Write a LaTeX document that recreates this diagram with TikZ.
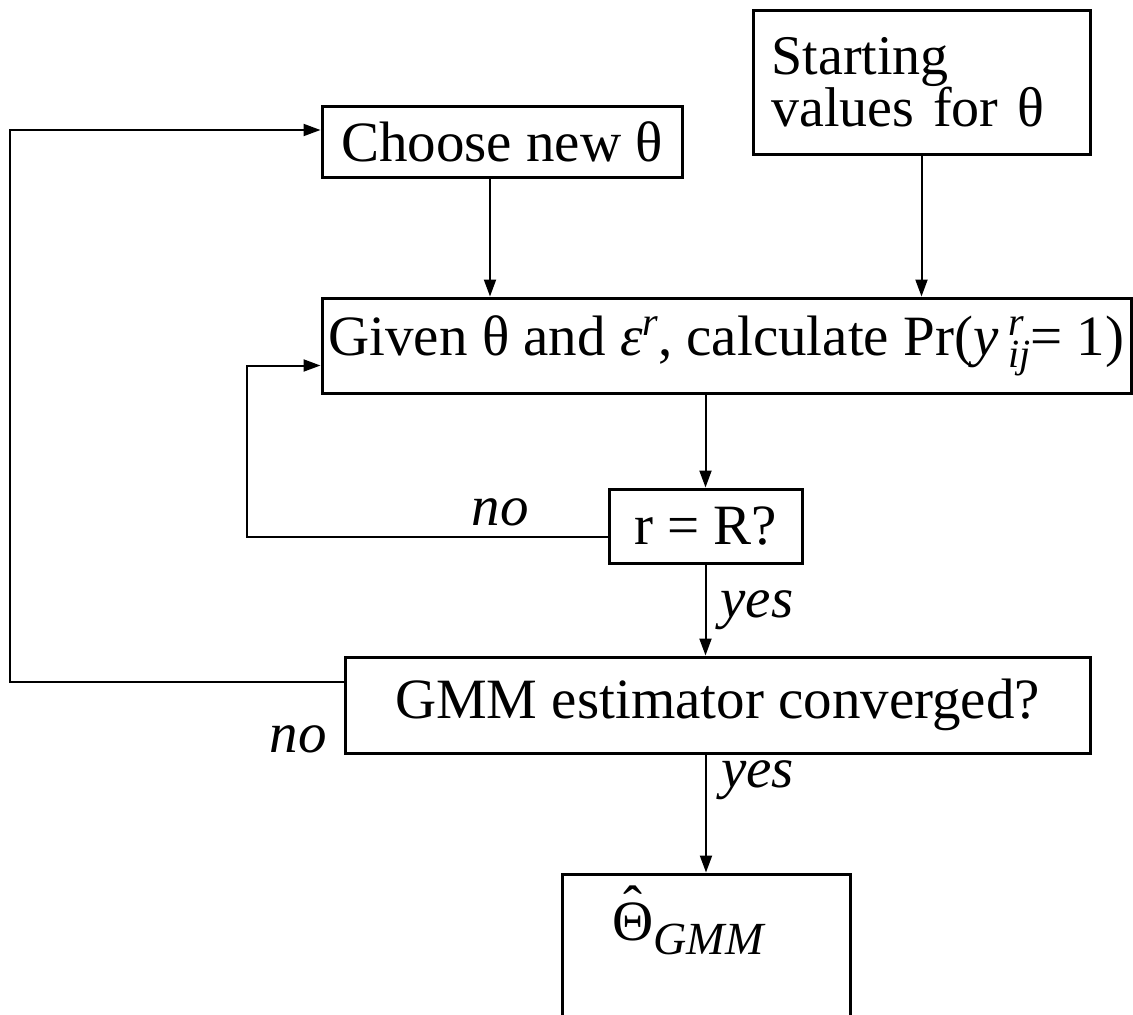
\documentclass[tikz,border=0pt]{standalone}
\usepackage{fontspec}
\setmainfont{Liberation Serif}
\usetikzlibrary{arrows.meta,positioning}

\newcommand{\bigtext}{\fontsize{57}{60}\selectfont}
\newcommand{\smalltext}{\fontsize{40}{40}\selectfont}
\newcommand{\thetahat}{\ooalign{Θ\cr\hidewidth\raisebox{.26em}{ˆ}\hidewidth\cr}}

\begin{document}
\begin{tikzpicture}[x=1pt,y=-1pt, every node/.style={font=\bigtext}, box/.style={draw,line width=3pt,inner sep=0pt}, arr/.style={-{Triangle[length=17pt,width=12pt]},line width=2pt}, lbl/.style={font=\bigtext\itshape,inner sep=0pt}]
\useasboundingbox (0,0) rectangle (1133,1015);
\node[box,minimum width=337pt,minimum height=144pt,text width=300pt,align=left,font=\fontsize{56}{47}\selectfont] (start) at (921.5,82) {Starting\\values for θ};
\node[box,minimum width=360pt,minimum height=71pt] (choose) at (502,141.5) {Choose new θ};
\node[box,minimum width=809pt,minimum height=95pt] (given) at (726.5,345.5) {Given θ and \textit{ε}\raisebox{20pt}{\smalltext\itshape r}, calculate Pr(\textit{y}\rlap{\raisebox{20pt}{\smalltext\itshape\ r}}\raisebox{-12pt}{\smalltext\itshape\ ij}= 1)};
\node[box,minimum width=193pt,minimum height=74pt] (rr) at (705.5,526) {r = R?};
\node[box,minimum width=745pt,minimum height=96pt] (gmm) at (717.5,705) {GMM estimator converged?};
\node[box,minimum width=288pt,minimum height=146pt] (theta) at (706,947) {\raisebox{7pt}[0pt][0pt]{\makebox[0pt]{\hspace{-36pt}\thetahat\raisebox{-14pt}{\fontsize{46}{46}\selectfont\itshape GMM}}}};
\coordinate (outer) at (10,400);
\coordinate (inner) at (247,450);
\draw[arr] ([xshift=-12pt]choose.south) -- ([xshift=-12pt]choose.south |- given.north);
\draw[arr] (start.south) -- (start.south |- given.north);
\draw[arr] (rr.north |- given.south) -- (rr.north);
\draw[arr] (rr.south) -- node[lbl,right=14pt] (yes1) {yes} (rr.south |- gmm.north);
\draw[arr] (theta.north |- gmm.south) -- node[lbl,right=14pt,pos=.22] (yes2) {yes} (theta.north);
\draw[arr] ([yshift=-11pt]rr.west) -| (inner) |- ([yshift=-20pt]given.west);
\draw[arr] ([yshift=23pt]gmm.west) -| (outer) |- ([yshift=11.5pt]choose.west);
\node[lbl,anchor=base] (no1) at (500,525) {no};
\node[lbl,anchor=base] (no2) at (298,752) {no};
\end{tikzpicture}
\end{document}
